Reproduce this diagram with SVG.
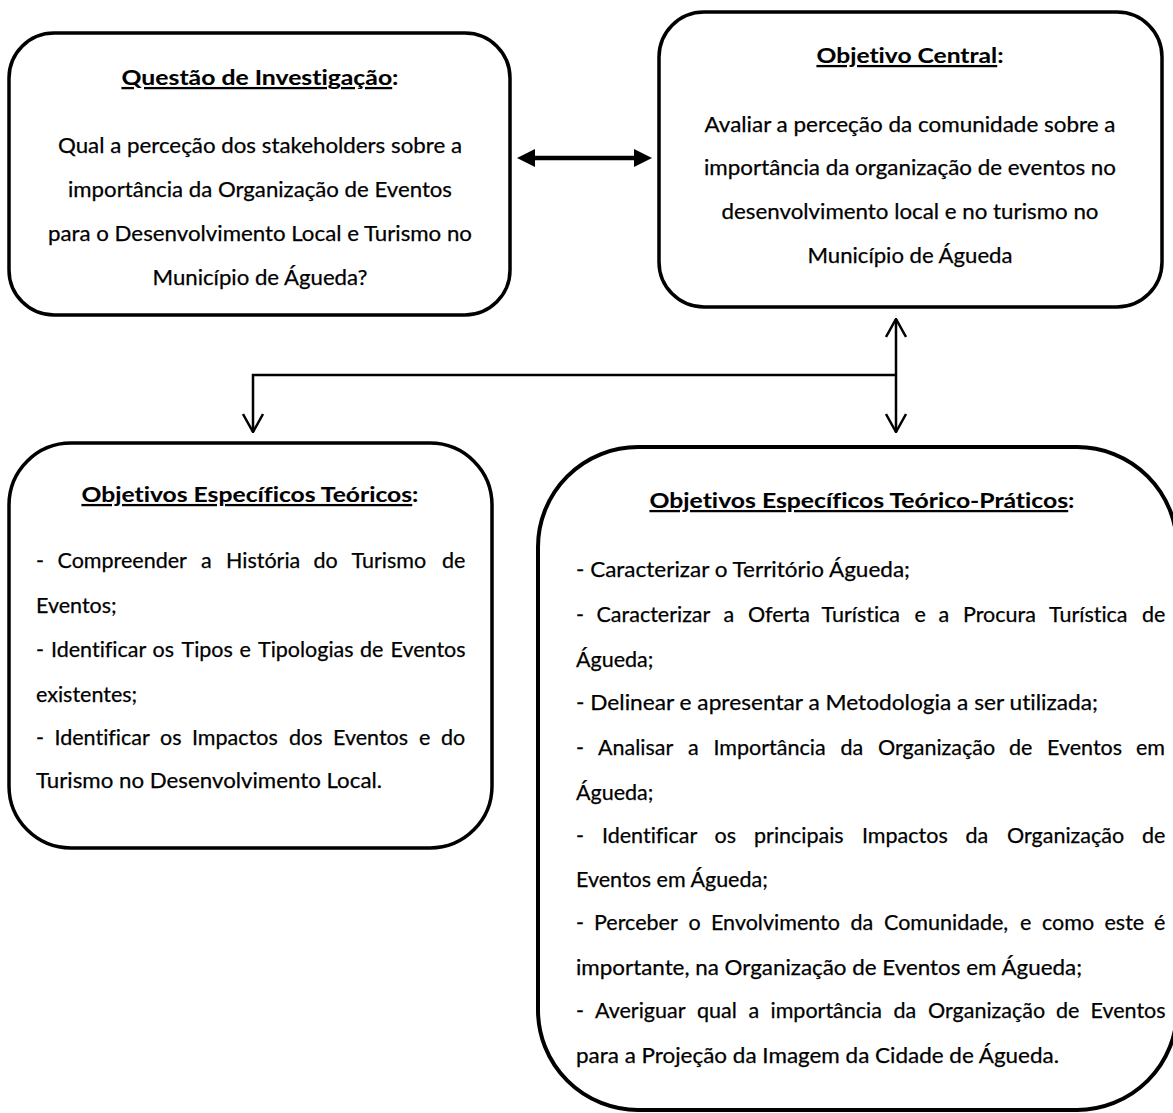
<svg xmlns="http://www.w3.org/2000/svg" width="1173" height="1113" viewBox="0 0 1173 1113">
<style>
.box{fill:#fff;stroke:#000;stroke-width:3.5}
text{font-family:Lato,"Open Sans","Liberation Sans",sans-serif;font-size:21.5px;fill:#000;stroke:#000;stroke-width:0.25;font-variant-ligatures:none}
.t{font-weight:bold;stroke-width:0.1}
.c{text-anchor:middle}
.u{text-decoration:underline}
.conn{fill:none;stroke:#000;stroke-width:2.5}
.thick{fill:none;stroke:#000;stroke-width:4.5}
</style>
<defs>
<marker id="open" viewBox="0 0 20 22" refX="19" refY="11" markerWidth="20" markerHeight="22" markerUnits="userSpaceOnUse" orient="auto-start-reverse">
<path d="M1,1 L19,11 L1,21" fill="none" stroke="#000" stroke-width="2.5"/>
</marker>
<marker id="solid" viewBox="0 0 18 18" refX="0" refY="9" markerWidth="18" markerHeight="18" markerUnits="userSpaceOnUse" orient="auto-start-reverse">
<path d="M0,0 L18,9 L0,18 z" fill="#000"/>
</marker>
</defs>
<g id="connectors">
<line class="thick" x1="535" y1="158" x2="634" y2="158" marker-start="url(#solid)" marker-end="url(#solid)"/>
<line class="conn" x1="896" y1="319" x2="896" y2="432" marker-start="url(#open)" marker-end="url(#open)"/>
<path class="conn" d="M896,375 H253 V432" marker-end="url(#open)"/>
</g>
<g id="questao">
<rect class="box" x="9" y="33" width="501" height="282" rx="45" ry="45"/>
<text class="t c" x="260" y="85" textLength="277" lengthAdjust="spacingAndGlyphs"><tspan class="u">Questão de Investigação</tspan>:</text>
<text class="c" x="260" y="153" textLength="404" lengthAdjust="spacingAndGlyphs">Qual a perceção dos stakeholders sobre a</text>
<text class="c" x="260" y="197" textLength="384" lengthAdjust="spacingAndGlyphs">importância da Organização de Eventos</text>
<text class="c" x="260" y="241" textLength="424" lengthAdjust="spacingAndGlyphs">para o Desenvolvimento Local e Turismo no</text>
<text class="c" x="260" y="285" textLength="215" lengthAdjust="spacingAndGlyphs">Município de Águeda?</text>
</g>
<g id="objetivo-central">
<rect class="box" x="659" y="12" width="503" height="295" rx="45" ry="45"/>
<text class="t c" x="910" y="63" textLength="187" lengthAdjust="spacingAndGlyphs"><tspan class="u">Objetivo Central</tspan>:</text>
<text class="c" x="910" y="132" textLength="411" lengthAdjust="spacingAndGlyphs">Avaliar a perceção da comunidade sobre a</text>
<text class="c" x="910" y="175" textLength="412" lengthAdjust="spacingAndGlyphs">importância da organização de eventos no</text>
<text class="c" x="910" y="219" textLength="377" lengthAdjust="spacingAndGlyphs">desenvolvimento local e no turismo no</text>
<text class="c" x="910" y="263" textLength="205" lengthAdjust="spacingAndGlyphs">Município de Águeda</text>
</g>
<g id="teoricos">
<rect class="box" x="9" y="443" width="483" height="405" rx="62" ry="62"/>
<text class="t c" x="250" y="502" textLength="337" lengthAdjust="spacingAndGlyphs"><tspan class="u">Objetivos Específicos Teóricos</tspan>:</text>
<text y="568"><tspan x="36">-</tspan><tspan x="57.5">Compreender</tspan><tspan x="201">a</tspan><tspan x="226">História</tspan><tspan x="313.5">do</tspan><tspan x="351.5">Turismo</tspan><tspan x="442">de</tspan></text>
<text x="36" y="613">Eventos;</text>
<text y="657"><tspan x="36">-</tspan><tspan x="51">Identificar</tspan><tspan x="152.5">os</tspan><tspan x="181.5">Tipos</tspan><tspan x="239.5">e</tspan><tspan x="258">Tipologias</tspan><tspan x="360">de</tspan><tspan x="390.5">Eventos</tspan></text>
<text x="36" y="702">existentes;</text>
<text y="745"><tspan x="36">-</tspan><tspan x="54.5">Identificar</tspan><tspan x="160">os</tspan><tspan x="192">Impactos</tspan><tspan x="289">dos</tspan><tspan x="333">Eventos</tspan><tspan x="419">e</tspan><tspan x="441">do</tspan></text>
<text x="36" y="788" textLength="346" lengthAdjust="spacingAndGlyphs">Turismo no Desenvolvimento Local.</text>
</g>
<g id="teorico-praticos">
<rect class="box" x="538" y="447" width="639" height="663" rx="100" ry="100" style="stroke-width:4"/>
<text class="t c" x="862" y="508" textLength="425" lengthAdjust="spacingAndGlyphs"><tspan class="u">Objetivos Específicos Teórico-Práticos</tspan>:</text>
<text x="576" y="577" textLength="334" lengthAdjust="spacingAndGlyphs">- Caracterizar o Território Águeda;</text>
<text y="622"><tspan x="576">-</tspan><tspan x="596.5">Caracterizar</tspan><tspan x="723.5">a</tspan><tspan x="748">Oferta</tspan><tspan x="821.5">Turística</tspan><tspan x="914.5">e</tspan><tspan x="938.5">a</tspan><tspan x="963">Procura</tspan><tspan x="1049">Turística</tspan><tspan x="1142">de</tspan></text>
<text x="576" y="667">Águeda;</text>
<text x="576" y="710" textLength="522" lengthAdjust="spacingAndGlyphs">- Delinear e apresentar a Metodologia a ser utilizada;</text>
<text y="755"><tspan x="576">-</tspan><tspan x="598">Analisar</tspan><tspan x="688">a</tspan><tspan x="713.5">Importância</tspan><tspan x="840.5">da</tspan><tspan x="878">Organização</tspan><tspan x="1009">de</tspan><tspan x="1047">Eventos</tspan><tspan x="1136">em</tspan></text>
<text x="576" y="800">Águeda;</text>
<text y="843"><tspan x="576">-</tspan><tspan x="602">Identificar</tspan><tspan x="714.5">os</tspan><tspan x="754">principais</tspan><tspan x="862">Impactos</tspan><tspan x="965.5">da</tspan><tspan x="1007">Organização</tspan><tspan x="1142">de</tspan></text>
<text x="576" y="887">Eventos em Águeda;</text>
<text y="930"><tspan x="576">-</tspan><tspan x="594">Perceber</tspan><tspan x="688.5">o</tspan><tspan x="711">Envolvimento</tspan><tspan x="850.5">da</tspan><tspan x="884">Comunidade,</tspan><tspan x="1020">e</tspan><tspan x="1042">como</tspan><tspan x="1104.5">este</tspan><tspan x="1154">é</tspan></text>
<text x="576" y="975" textLength="506" lengthAdjust="spacingAndGlyphs">importante, na Organização de Eventos em Águeda;</text>
<text y="1018"><tspan x="576">-</tspan><tspan x="595">Averiguar</tspan><tspan x="697">qual</tspan><tspan x="748.5">a</tspan><tspan x="770.5">importância</tspan><tspan x="893.5">da</tspan><tspan x="928">Organização</tspan><tspan x="1056">de</tspan><tspan x="1090.5">Eventos</tspan></text>
<text x="576" y="1063" textLength="483" lengthAdjust="spacingAndGlyphs">para a Projeção da Imagem da Cidade de Águeda.</text>
</g>
</svg>
